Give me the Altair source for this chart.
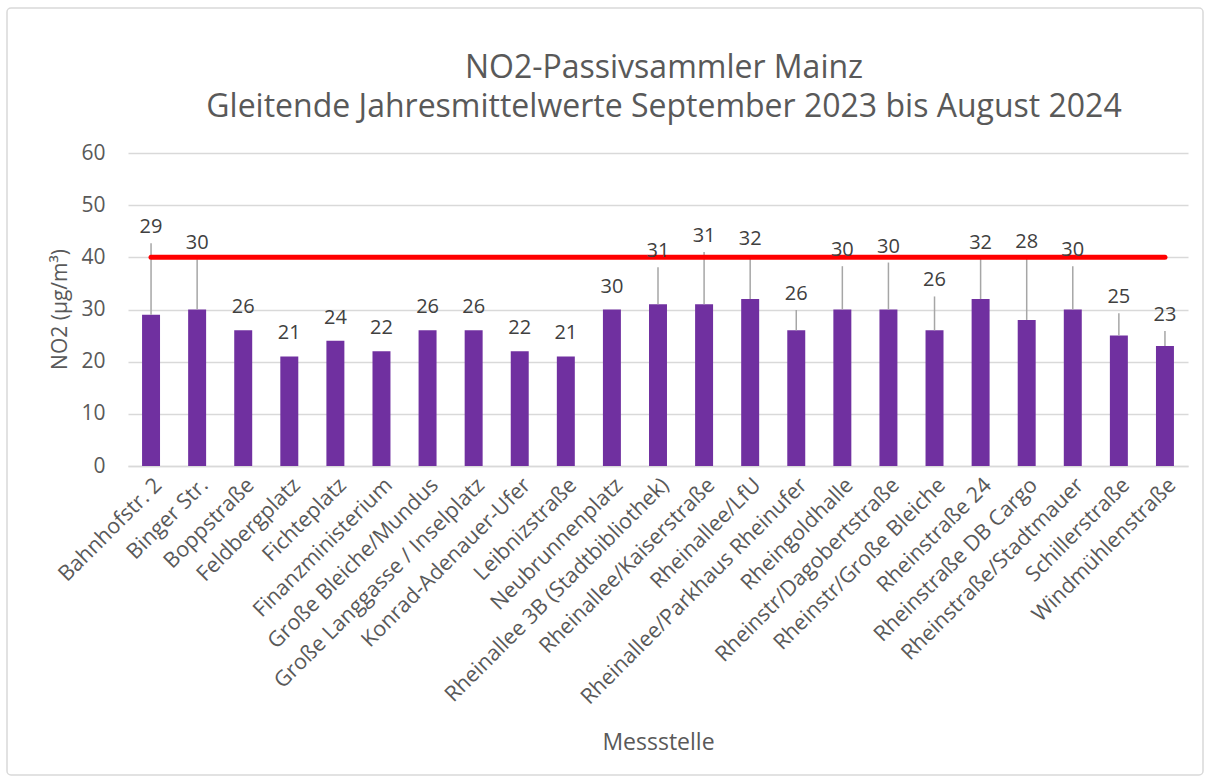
import altair as alt
import pandas as pd

stations = [
    "Bahnhofstr. 2", "Binger Str.", "Boppstraße", "Feldbergplatz", "Fichteplatz",
    "Finanzministerium", "Große Bleiche/Mundus", "Große Langgasse / Inselplatz",
    "Konrad-Adenauer-Ufer", "Leibnizstraße", "Neubrunnenplatz",
    "Rheinallee 3B (Stadtbibliothek)", "Rheinallee/Kaiserstraße", "Rheinallee/LfU",
    "Rheinallee/Parkhaus Rheinufer", "Rheingoldhalle", "Rheinstr/Dagobertstraße",
    "Rheinstr/Große Bleiche", "Rheinstraße 24", "Rheinstraße DB Cargo",
    "Rheinstraße/Stadtmauer", "Schillerstraße", "Windmühlenstraße",
]
values = [29, 30, 26, 21, 24, 22, 26, 26, 22, 21, 30, 31, 31, 32, 26, 30, 30, 26, 32, 28, 30, 25, 23]
err_plus = [13.7, 9.6, 0, 0, 0, 0, 0, 0, 0, 0, 0, 7.1, 10.0, 8.4, 3.9, 8.3, 9.0, 6.5, 7.7, 11.8, 8.3, 4.3, 2.9]
limit_value = 40
y_ticks = [0, 10, 20, 30, 40, 50, 60]

df = pd.DataFrame({"station": stations, "value": values, "err": err_plus})
df["top"] = df["value"] + df["err"]
limit_df = pd.DataFrame({"start": [stations[0]], "end": [stations[-1]], "limit": [limit_value]})

FONT = "Open Sans"
GREY = "#595959"

x_scale = alt.Scale(domain=stations, paddingInner=0.61, paddingOuter=0.305)
y_scale = alt.Scale(domain=[0, 60])

x_enc = alt.X(
    "station:N", scale=x_scale, sort=stations,
    axis=alt.Axis(
        title="Messstelle", labelAngle=-45, labelFontSize=21.5, labelColor=GREY,
        labelFont=FONT, labelPadding=8, labelLimit=400,
        titleFontSize=23, titleFont=FONT, titleColor=GREY, titleFontWeight="normal",
        titleY=276, titleBaseline="middle",
        domainColor="#d9d9d9", domainWidth=1.5, ticks=False,
    ),
)
y_enc = alt.Y(
    "value:Q", scale=y_scale,
    axis=alt.Axis(
        values=y_ticks, title="NO2 (µg/m³)", labelFontSize=21, labelColor=GREY,
        labelFont=FONT, labelPadding=23, domain=False, ticks=False,
        gridColor="#d9d9d9", gridWidth=1.3,
        titleFontSize=21, titleFont=FONT, titleColor=GREY, titleFontWeight="normal",
        titleX=-68, titleY=156, titleBaseline="middle", titleAlign="center",
    ),
)

bars = alt.Chart(df).mark_bar(color="#7030a0").encode(x=x_enc, y=y_enc)

errs = alt.Chart(df).transform_filter("datum.err > 0").mark_rule(
    color="#a6a6a6", strokeWidth=1.5
).encode(x=alt.X("station:N", sort=stations), y="value:Q", y2="top:Q")

limit_line = alt.Chart(limit_df).mark_rule(
    color="#ff0000", strokeWidth=5, strokeCap="round"
).encode(x=alt.X("start:N", sort=stations), x2="end:N", y="limit:Q")

labels_err = alt.Chart(df).transform_filter("datum.err > 0").mark_text(
    fontSize=20, font=FONT, color="#404040", baseline="alphabetic", dy=-10
).encode(x=alt.X("station:N", sort=stations), y="top:Q", text="value:Q")

labels_plain = alt.Chart(df).transform_filter("datum.err == 0").mark_text(
    fontSize=20, font=FONT, color="#404040", baseline="alphabetic", dy=-17
).encode(x=alt.X("station:N", sort=stations), y="top:Q", text="value:Q")

frame = alt.Chart(limit_df).mark_rect(
    fill=None, stroke="#d9d9d9", strokeWidth=1.5, cornerRadius=4, clip=False
).encode(
    x=alt.value(-121), x2=alt.value(1075), y=alt.value(-145), y2=alt.value(622)
)

chart = alt.layer(bars, errs, limit_line, labels_err, labels_plain, frame).properties(
    width=1060, height=313,
    title=alt.TitleParams(
        text=["NO2-Passivsammler Mainz", "Gleitende Jahresmittelwerte September 2023 bis August 2024"],
        fontSize=32, font=FONT, color=GREY, fontWeight="normal", anchor="middle",
        offset=-117, lineHeight=39, dx=6,
    ),
    autosize=alt.AutoSizeParams(type="none"),
    padding={"left": 128, "top": 153, "right": 25, "bottom": 317},
    background="white",
).configure_view(stroke=None)

chart.save("out.html", embed_options={"renderer": "svg", "actions": False})
